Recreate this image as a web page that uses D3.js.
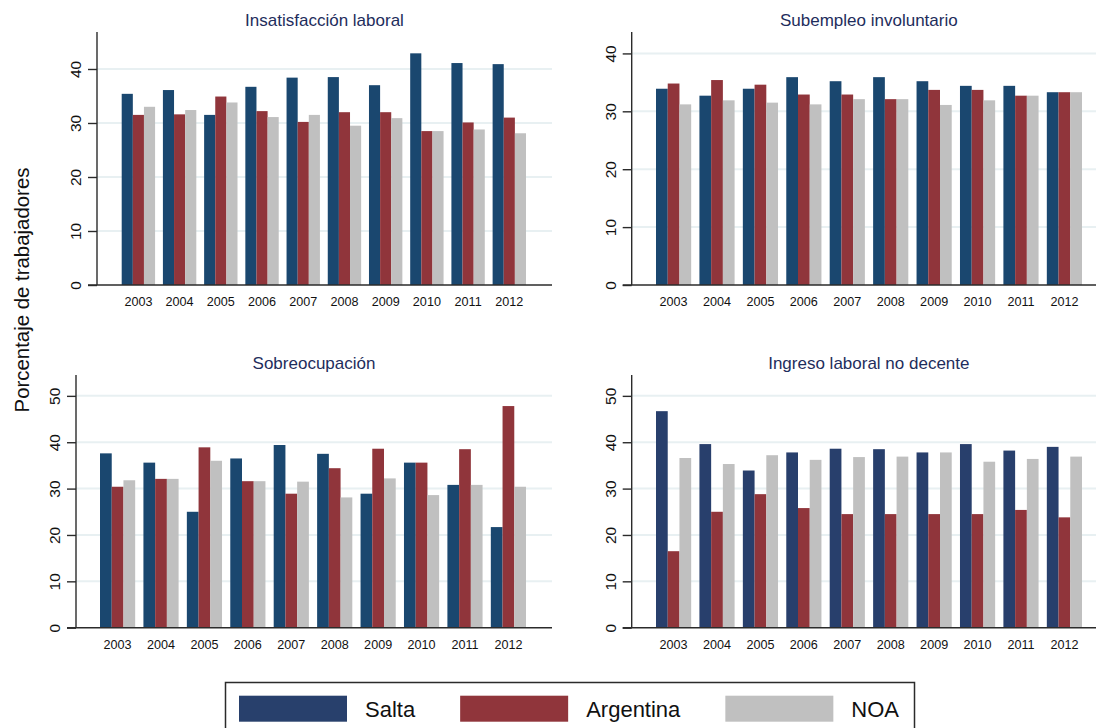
<!DOCTYPE html>
<html><head><meta charset="utf-8">
<script src="https://cdn.jsdelivr.net/npm/d3@7"></script>
<style>
html,body{margin:0;padding:0;background:#fff;}
svg{display:block;font-family:"Liberation Sans",Arial,sans-serif;}
</style></head>
<body>
<svg id="chart" width="1096" height="728"></svg>
<script>
const years = ['2003','2004','2005','2006','2007','2008','2009','2010','2011','2012'];
const seriesNames = ['Salta','Argentina','NOA'];

// Insatisfacción laboral
const insatSalta = [35.4, 36.1, 31.5, 36.7, 38.4, 38.5, 37.0, 42.9, 41.1, 40.9];
const insatArg   = [31.5, 31.6, 34.9, 32.2, 30.2, 32.0, 32.0, 28.5, 30.1, 31.0];
const insatNOA   = [33.0, 32.4, 33.8, 31.1, 31.5, 29.5, 30.9, 28.5, 28.8, 28.1];
// Subempleo involuntario
const subSalta = [33.9, 32.7, 33.9, 35.9, 35.2, 35.9, 35.2, 34.4, 34.4, 33.3];
const subArg   = [34.8, 35.4, 34.6, 32.9, 32.9, 32.1, 33.7, 33.7, 32.7, 33.3];
const subNOA   = [31.2, 31.9, 31.5, 31.2, 32.1, 32.1, 31.1, 31.9, 32.7, 33.3];
// Sobreocupación
const sobreSalta = [37.6, 35.6, 25.0, 36.5, 39.4, 37.5, 28.9, 35.6, 30.8, 21.7];
const sobreArg   = [30.4, 32.1, 38.9, 31.6, 28.9, 34.4, 38.6, 35.6, 38.5, 47.8];
const sobreNOA   = [31.8, 32.1, 36.0, 31.6, 31.5, 28.1, 32.2, 28.6, 30.8, 30.4];
// Ingreso laboral no decente
const ingSalta = [46.7, 39.6, 33.9, 37.8, 38.6, 38.5, 37.8, 39.6, 38.2, 39.0];
const ingArg   = [16.5, 25.0, 28.8, 25.8, 24.5, 24.5, 24.5, 24.5, 25.4, 23.8];
const ingNOA   = [36.6, 35.3, 37.2, 36.2, 36.8, 36.9, 37.8, 35.8, 36.4, 36.9];

const panelTitles = ['Insatisfacción laboral','Subempleo involuntario','Sobreocupación','Ingreso laboral no decente'];
const panelData = [
  [insatSalta, insatArg, insatNOA],
  [subSalta, subArg, subNOA],
  [sobreSalta, sobreArg, sobreNOA],
  [ingSalta, ingArg, ingNOA]
];
const yMaxes = [46.85, 43.7, 54.5, 54.5];
const yTickValues = [[0,10,20,30,40],[0,10,20,30,40],[0,10,20,30,40,50],[0,10,20,30,40,50]];

const yTitle = 'Porcentaje de trabajadores';

// layout (pixels)
const layouts = [
  {axisX:97,    right:552,  barStart:121.7, barEnd:526,  top:32,  base:285},
  {axisX:631.7, right:1106, barStart:656,   barEnd:1082, top:32,  base:285},
  {axisX:76,    right:552,  barStart:100,   barEnd:526,  top:375, base:627.7},
  {axisX:631.7, right:1106, barStart:656,   barEnd:1082, top:375, base:627.7}
];
const colorSets = [
  ['#1a476f','#90353b','#c0c0c0'],
  ['#1a476f','#90353b','#c0c0c0'],
  ['#1a476f','#90353b','#c0c0c0'],
  ['#283f6c','#90353b','#c0c0c0']
];
const legendColors = ['#28406c','#90353b','#c0c0c0'];
const titleColor = '#1e2d5c';
const axisColor = '#2b2b2b';
const gridColor = '#e8f0f2';

const svg = d3.select('#chart');

layouts.forEach((L, pi) => {
  const g = svg.append('g');
  const x = d3.scaleBand().domain(years).range([L.barStart, L.barEnd]).paddingInner(0.19).paddingOuter(0);
  const xs = d3.scaleBand().domain(seriesNames).range([0, x.bandwidth()]).padding(0);
  const y = d3.scaleLinear().domain([0, yMaxes[pi]]).range([L.base, L.top]);

  // gridlines
  g.selectAll('line.grid').data(yTickValues[pi].filter(d => d !== 0)).join('line')
    .attr('class','grid')
    .attr('x1', L.axisX).attr('x2', L.right)
    .attr('y1', d => y(d)).attr('y2', d => y(d))
    .attr('stroke', gridColor).attr('stroke-width', 2);

  // bars
  seriesNames.forEach((s, si) => {
    g.append('g').selectAll('rect').data(panelData[pi][si]).join('rect')
      .attr('x', (d, i) => x(years[i]) + xs(s))
      .attr('y', d => y(d))
      .attr('width', xs.bandwidth())
      .attr('height', d => y(0) - y(d))
      .attr('fill', colorSets[pi][si]);
  });

  // y axis
  const yAxis = d3.axisLeft(y).tickValues(yTickValues[pi]).tickSize(9).tickFormat(d3.format('d'));
  const ya = g.append('g').attr('transform', `translate(${L.axisX},0)`).call(yAxis);
  ya.select('.domain').remove();
  ya.selectAll('.tick line').attr('stroke', axisColor).attr('stroke-width', 1.4);
  ya.selectAll('.tick text')
    .attr('transform', 'rotate(-90)')
    .attr('x', 0).attr('y', -16).attr('dy', 0)
    .attr('text-anchor', 'middle')
    .attr('font-size', 15.5)
    .attr('font-family', '"Liberation Sans",Arial,sans-serif')
    .attr('fill', '#111');
  g.append('line').attr('x1', L.axisX).attr('x2', L.axisX).attr('y1', L.top).attr('y2', L.base)
    .attr('stroke', axisColor).attr('stroke-width', 1.4);
  g.append('line').attr('x1', L.axisX - 9).attr('x2', L.right).attr('y1', L.base).attr('y2', L.base)
    .attr('stroke', axisColor).attr('stroke-width', 1.6);

  // x axis labels
  const xAxis = d3.axisBottom(x).tickSize(0);
  const xa = g.append('g').attr('transform', `translate(0,${L.base})`).call(xAxis);
  xa.select('.domain').remove();
  xa.selectAll('.tick text')
    .attr('y', 21).attr('dy', 0)
    .attr('font-size', 12.6)
    .attr('font-family', '"Liberation Sans",Arial,sans-serif')
    .attr('fill', '#111');

  // title
  g.append('text')
    .attr('x', (L.axisX + L.right) / 2)
    .attr('y', L.top - 6.5)
    .attr('text-anchor', 'middle')
    .attr('font-size', 17)
    .attr('fill', titleColor)
    .text(panelTitles[pi]);
});

// Y axis title
svg.append('text')
  .attr('transform', 'translate(28.5,290) rotate(-90)')
  .attr('text-anchor', 'middle')
  .attr('font-size', 20.4)
  .attr('fill', '#111')
  .text(yTitle);

// Legend
const lg = svg.append('g');
lg.append('rect').attr('x', 225.5).attr('y', 682.5).attr('width', 689).attr('height', 60)
  .attr('fill', '#fff').attr('stroke', axisColor).attr('stroke-width', 1.5);
let lx = 239;
seriesNames.forEach((s, i) => {
  lg.append('rect').attr('x', lx).attr('y', 695.7).attr('width', 108).attr('height', 26)
    .attr('fill', legendColors[i]);
  const t = lg.append('text').attr('x', lx + 126).attr('y', 717)
    .attr('font-size', 22).attr('fill', '#111').text(s);
  lx = lx + 126 + t.node().getComputedTextLength() + 45;
});
</script>
</body></html>
